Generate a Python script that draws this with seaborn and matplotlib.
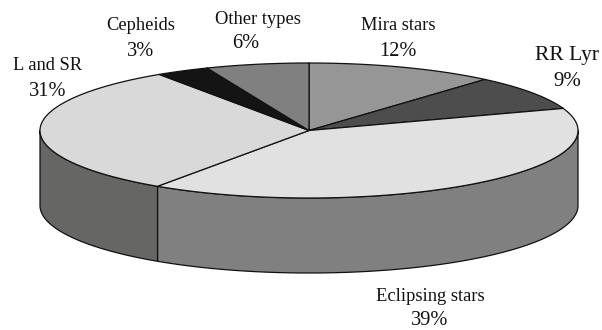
import numpy as np
import matplotlib
matplotlib.use("Agg")
import matplotlib.pyplot as plt
import seaborn as sns

# Share of each variable-star class, clockwise from twelve o'clock
categories = ["Mira stars", "RR Lyr", "Eclipsing stars", "L and SR", "Cepheids", "Other types"]
percentages = [12, 9, 39, 31, 3, 6]

top_colors = ["#969696", "#4d4d4d", "#e1e1e1", "#d9d9d9", "#141414", "#808080"]
side_colors = ["#6e6e6e", "#3a3a3a", "#808080", "#666664", "#101010", "#606060"]

# Label anchors in pixels: (name x, name baseline, percent x, percent baseline, name size, percent size)
label_layout = {
    "Mira stars": (398, 30, 398, 56, 13.3, 14.7),
    "RR Lyr": (567, 60, 567, 86.5, 15.5, 15),
    "Eclipsing stars": (430, 301, 430, 325, 13.3, 14.7),
    "L and SR": (48, 70, 48, 96.5, 13.3, 14.7),
    "Cepheids": (141, 30.5, 141, 55.5, 13.3, 14.7),
    "Other types": (258, 23.5, 246, 47.5, 13.3, 14.7),
}

CX, CY, RX, RY, DEPTH = 309.0, 130.5, 269.0, 67.5, 75.0
LINE = "#111111"

sns.set_theme(style="white")
plt.rcParams["font.family"] = ["Liberation Serif", "DejaVu Serif"]

fig, ax = plt.subplots(figsize=(6.02, 3.30), dpi=100)
ax.set_position([0, 0, 1, 1])
ax.set_xlim(0, 602)
ax.set_ylim(330, 0)
ax.axis("off")


def view_angle(deg):
    """Clockwise pie angle to ellipse angle, with the tilt's foreshortening."""
    rad = np.radians(deg)
    return deg - 5.0 * np.sin(rad) ** 2


def rim(start, stop, drop=0.0):
    """Points on the elliptical rim between two view angles, clockwise from the top."""
    t = np.radians(np.linspace(start, stop, 200))
    return CX + RX * np.sin(t), CY - RY * np.cos(t) + drop


edges = np.cumsum([0] + percentages) * 3.6
top_palette = sns.color_palette(top_colors)
side_palette = sns.color_palette(side_colors)

# Outer wall: only the part of each slice on the front half of the disc shows
for i in range(len(percentages)):
    a0, a1 = view_angle(edges[i]), view_angle(edges[i + 1])
    lo, hi = max(a0, 90.0), min(a1, 270.0)
    if lo >= hi:
        continue
    xs, ys = rim(lo, hi)
    xb, yb = rim(lo, hi, DEPTH)
    ax.fill(np.r_[xs, xb[::-1]], np.r_[ys, yb[::-1]], facecolor=side_palette[i],
            edgecolor=LINE, linewidth=0.9, joinstyle="round", zorder=2)

# Top face
for i in range(len(percentages)):
    a0, a1 = view_angle(edges[i]), view_angle(edges[i + 1])
    xs, ys = rim(a0, a1)
    ax.fill(np.r_[CX, xs], np.r_[CY, ys], facecolor=top_palette[i],
            edgecolor=LINE, linewidth=0.9, joinstyle="round", zorder=3)

for name, pct in zip(categories, percentages):
    nx, ny, px, py, ns, ps = label_layout[name]
    ax.text(nx, ny, name, ha="center", va="baseline", fontsize=ns, color="#111111")
    ax.text(px, py, f"{pct}%", ha="center", va="baseline", fontsize=ps, color="#111111")

fig.savefig("out.png", dpi=100, facecolor="white")
